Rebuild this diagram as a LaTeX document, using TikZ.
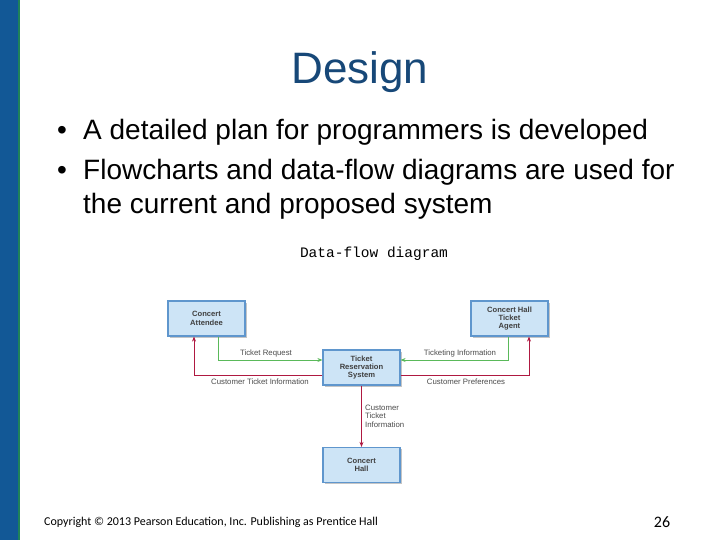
\documentclass[tikz,border=0pt]{standalone}
\usepackage{fontspec}
\setmainfont{Liberation Sans}
\newfontfamily\monofont{Liberation Mono}
\newfontfamily\footfont{Carlito}
\usetikzlibrary{arrows.meta,shadows}
\definecolor{barblue}{RGB}{18,88,150}
\definecolor{bargreen}{RGB}{30,130,90}
\definecolor{titleblue}{RGB}{23,72,120}
\definecolor{boxfill}{RGB}{205,228,246}
\definecolor{boxline}{RGB}{95,150,205}
\definecolor{flowgreen}{RGB}{90,185,90}
\definecolor{flowred}{RGB}{175,25,65}
\begin{document}
\begin{tikzpicture}[x=1pt, y=-1pt,
    entity/.style={rectangle, draw=boxline, line width=1.2pt, fill=boxfill, minimum width=77pt, minimum height=35pt, inner sep=1pt, align=center, font=\fontsize{7.6}{8.4}\selectfont\bfseries, text=black!75, drop shadow={shadow xshift=1.5pt, shadow yshift=-1.5pt, fill=black!45}},
    flowlabel/.style={font=\fontsize{7.8}{8.6}\selectfont, text=black!70, inner sep=1pt},
    bullettext/.style={anchor=base west, font=\fontsize{28}{32}\selectfont, inner sep=0pt},
    garrow/.style={->, flowgreen, line width=0.9pt, >={Stealth[length=5pt,width=4pt]}},
    rarrow/.style={->, flowred, line width=0.9pt, >={Stealth[length=5pt,width=4pt]}}
]
    % Page and side bar
    \useasboundingbox (0,0) rectangle (720,540);
    \fill[white] (0,0) rectangle (720,540);
    \fill[bargreen] (0,0) rectangle (20,540);
    \fill[barblue] (0,0) rectangle (17.5,540);

    % Title and bullets
    \node[anchor=base, font=\fontsize{44}{48}\selectfont, text=titleblue] (title) at (360,84) {Design};
    \node[bullettext] (dot1) at (57,140) {•};
    \node[bullettext] (line1) at (83,140) {A detailed plan for programmers is developed};
    \node[bullettext] (dot2) at (57,180) {•};
    \node[bullettext] (line2) at (83,180) {Flowcharts and data-flow diagrams are used for};
    \node[bullettext] (line3) at (83,214) {the current and proposed system};
    \node[anchor=base, font=\monofont\fontsize{14.5}{16}\selectfont] (caption) at (374,258) {Data-flow diagram};

    % Diagram entities
    \node[entity] (attendee) at (206.5,318.5) {Concert\\Attendee};
    \node[entity] (agent) at (509.5,318.5) {Concert Hall\\Ticket\\Agent};
    \node[entity] (system) at (361.5,367.5) {Ticket\\Reservation\\System};
    \node[entity] (hall) at (361.5,465) {Concert\\Hall};

    % Flows
    \coordinate (gl) at (218,360);
    \coordinate (gr) at (508,360);
    \coordinate (rl) at (194,375);
    \coordinate (rr) at (529,375);
    \draw[garrow] (attendee.south -| gl) -- (gl) -- (system.west |- gl);
    \draw[garrow] (agent.south -| gr) -- (gr) -- (system.east |- gr);
    \draw[rarrow] (system.west |- rl) -- (rl) -- (attendee.south -| rl);
    \draw[rarrow] (system.east |- rr) -- (rr) -- (agent.south -| rr);
    \draw[rarrow] (system) -- (hall);

    % Flow labels
    \node[flowlabel] (reqlabel) at (266,353) {Ticket Request};
    \node[flowlabel] (infolabel) at (460,353) {Ticketing Information};
    \node[flowlabel] (custlabel) at (260,382) {Customer Ticket Information};
    \node[flowlabel] (preflabel) at (466,382) {Customer Preferences};
    \node[flowlabel, anchor=west, align=left] (halllabel) at (364,416) {Customer\\Ticket\\Information};

    % Footer
    \node[anchor=base west, font=\footfont\fontsize{12}{13}\selectfont, inner sep=0pt] (copy) at (44,525) {Copyright © 2013 Pearson Education, Inc. Publishing as Prentice Hall};
    \node[anchor=base, font=\footfont\fontsize{16}{18}\selectfont, inner sep=0pt] (pagenum) at (662,527) {26};
\end{tikzpicture}
\end{document}
